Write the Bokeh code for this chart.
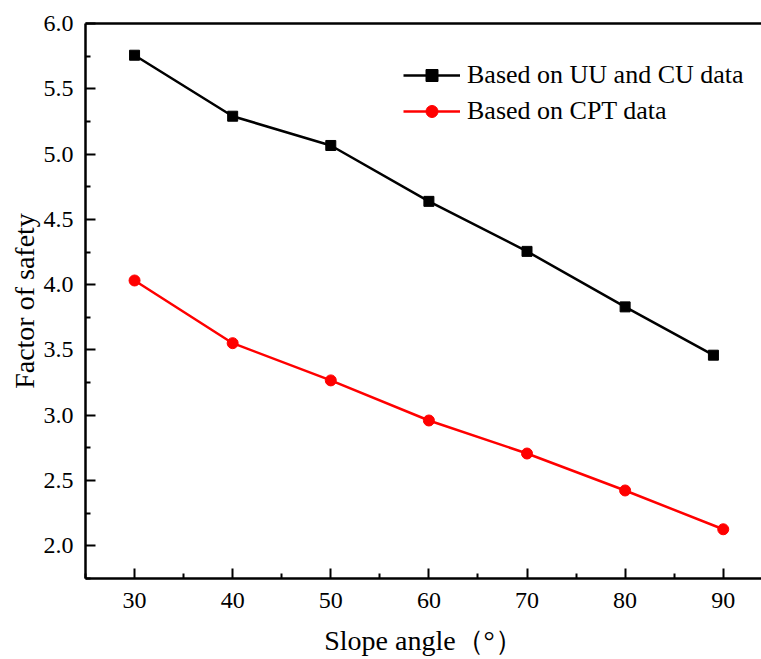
from bokeh.plotting import figure
from bokeh.models import Legend, LegendItem, LinearAxis, Range1d, FixedTicker, PrintfTickFormatter
from bokeh.embed import file_html
from bokeh.resources import INLINE

angles_uu = [30, 40, 50, 60, 70, 80, 89]
fs_uu = [5.757, 5.29, 5.066, 4.638, 4.255, 3.83, 3.46]
angles_cpt = [30, 40, 50, 60, 70, 80, 90]
fs_cpt = [4.032, 3.552, 3.267, 2.96, 2.707, 2.424, 2.127]
x_ticks = [30, 40, 50, 60, 70, 80, 90]
y_ticks = [2.0, 2.5, 3.0, 3.5, 4.0, 4.5, 5.0, 5.5, 6.0]
label_uu = "Based on UU and CU data"
label_cpt = "Based on CPT data"

FONT = "Liberation Serif"

p = figure(width=761, height=659, output_backend="svg", toolbar_location=None,
           x_range=Range1d(25, 93.9), y_range=Range1d(1.75, 6.0),
           min_border_left=85, min_border_right=0, min_border_top=23, min_border_bottom=81)
p.outline_line_color = None
p.grid.visible = False
p.background_fill_color = "white"
p.border_fill_color = "white"

l1 = p.line(angles_uu, fs_uu, line_color="black", line_width=2.5)
m1 = p.scatter(angles_uu, fs_uu, marker="square", size=10, color="black")
l2 = p.line(angles_cpt, fs_cpt, line_color="#ff0000", line_width=2.5)
m2 = p.scatter(angles_cpt, fs_cpt, marker="circle", size=11, color="#ff0000")

for ax in (p.xaxis[0], p.yaxis[0]):
    ax.axis_line_width = 2.5
    ax.axis_line_color = "black"
    ax.major_tick_line_width = 2
    ax.minor_tick_line_width = 2
    ax.major_tick_in = 10
    ax.major_tick_out = 0
    ax.minor_tick_in = 5
    ax.minor_tick_out = 0
    ax.major_label_text_font = FONT
    ax.major_label_text_font_size = "24px"
    ax.major_label_text_color = "black"
    ax.axis_label_text_font = FONT
    ax.axis_label_text_font_size = "28px"
    ax.axis_label_text_font_style = "normal"
    ax.axis_label_text_color = "black"

p.xaxis[0].ticker = FixedTicker(ticks=x_ticks, minor_ticks=[25, 35, 45, 55, 65, 75, 85])
p.yaxis[0].ticker = FixedTicker(ticks=y_ticks, minor_ticks=[1.75, 2.25, 2.75, 3.25, 3.75, 4.25, 4.75, 5.25, 5.75])
p.xaxis[0].formatter = PrintfTickFormatter(format="%d")
p.yaxis[0].formatter = PrintfTickFormatter(format="%.1f")
p.xaxis[0].axis_label = "Slope angle（°）"
p.yaxis[0].axis_label = "Factor of safety"
p.xaxis[0].major_label_standoff = 14
p.yaxis[0].major_label_standoff = 12
p.xaxis[0].axis_label_standoff = 14
p.yaxis[0].axis_label_standoff = 1

top = LinearAxis(axis_line_width=2.5, axis_line_color="black",
                 major_tick_line_color=None, minor_tick_line_color=None,
                 major_label_text_font_size="0px", major_label_text_alpha=0)
top.ticker = FixedTicker(ticks=[])
p.add_layout(top, "above")

legend = Legend(items=[LegendItem(label=label_uu, renderers=[l1, m1]),
                       LegendItem(label=label_cpt, renderers=[l2, m2])],
                location=(318, 452), border_line_color=None, background_fill_alpha=0,
                padding=0, margin=0, spacing=6, glyph_width=57, glyph_height=30,
                label_height=30, label_standoff=7, label_text_font=FONT,
                label_text_font_size="26px", label_text_color="black")
p.add_layout(legend, "center")

open("out.html", "w").write(file_html(p, INLINE))
